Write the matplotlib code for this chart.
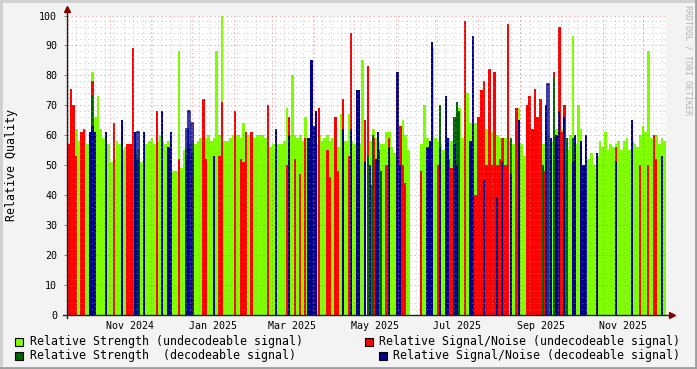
import numpy as np
import pandas as pd
import matplotlib
matplotlib.use("Agg")
import matplotlib.pyplot as plt
from matplotlib.ticker import MultipleLocator
from matplotlib.patches import Rectangle
from matplotlib.lines import Line2D

# =========================
# DATA (one value per 2-day step, starting 2024-09-30)
# =========================
START_DATE = "2024-09-30"
STEP_DAYS = 2
N_STEPS = 222

strength_undec = [
    57, 52, 60, 62, 58, 61, 62, 57, 58, 81,
    66, 73, 62, 59, 60, 57, 51, 52, 58, 57,
    55, 56, 50, 50, 53, 54, 55, 51, 53, 57,
    58, 59, 57, 58, 60, 58, 57, 58, 57, 48,
    48, 88, 49, 55, 56, 57, 58, 57, 58, 59,
    57, 59, 60, 58, 59, 88, 60, 100, 58, 58,
    59, 60, 60, 60, 59, 64, 60, 60, 60, 59,
    60, 60, 60, 59, 58, 56, 57, 60, 57, 57,
    58, 69, 60, 80, 60, 59, 60, 58, 66, 58,
    56, 54, 57, 60, 58, 59, 60, 58, 59, 60,
    56, 67, 58, 58, 67, 58, 57, 56, 57, 85,
    60, 62, 58, 62, 59, 58, 57, 57, 61, 61,
    56, 54, 70, 60, 65, 60, 55, np.nan, np.nan, np.nan,
    np.nan, 57, 70, 59, 58, 89, 59, 58, 57, 55,
    64, 59, 58, 57, 60, 69, 59, 60, 74, 64,
    64, 64, 62, 63, 61, 62, 69, 61, 62, 60,
    59, 57, 59, 58, 58, 57, 59, 69, 57, 53,
    57, 60, 62, 62, 62, 68, 57, 54, 60, 58,
    60, 62, 63, 62, 60, 55, 60, 93, 57, 70,
    62, 50, 52, 52, 54, 50, 53, 58, 56, 61,
    55, 57, 56, 57, 58, 55, 58, 59, 55, 58,
    57, 56, 60, 63, 61, 88, 59, 58, 60, 57,
    59, 58,
]

snr_undec_idx = [
    0, 1, 2, 3, 5, 6, 9, 10, 17, 22, 23, 24, 33, 41, 50, 51, 56, 57, 62, 64,
    65, 66, 68, 74, 77, 81, 82, 84, 86, 88, 93, 96, 97, 99, 100, 102, 104, 105, 107, 110,
    111, 112, 113, 114, 118, 119, 122, 123, 124, 125, 131, 137, 141, 142, 143, 145, 147, 151, 152, 153,
    154, 155, 156, 157, 158, 159, 160, 161, 162, 163, 166, 167, 170, 171, 172, 173, 174, 175, 176, 177,
    180, 182, 183, 184, 185, 188, 190, 203, 212, 215, 217, 218,
]
snr_undec = [
    57, 75.5, 70, 53, 61, 62, 78, 50, 64, 57, 57, 89, 68, 52, 72, 52, 53, 71, 68, 52,
    51, 61, 61, 70, 49, 50, 66, 52, 47, 59, 69, 55, 46, 66, 48, 72, 53, 94, 51, 65,
    83, 43.5, 59, 48, 50, 59, 57, 63, 50, 44, 48, 50, 52, 49, 61, 54, 98, 40, 66, 75,
    78, 50, 82, 50, 81, 50, 52, 59, 50, 97, 69, 65, 70, 73, 62, 75.5, 66, 72, 48, 65,
    81, 96, 61, 70, 59, 48, 58, 56, 50, 50, 60, 52,
]

strength_dec_idx = [9, 25, 26, 44, 45, 46, 89, 90, 111, 113, 115, 116, 122, 134, 135, 138,
                    143, 144, 145, 164, 176, 180, 185, 187]
strength_dec = [73, 52, 52, 53, 56, 54, 54, 54, 53, 60, 55, 48, 70, 48, 84, 70,
                66, 71, 68, 59, 50, 79, 59, 59]

snr_dec_idx = [
    8, 9, 10, 14, 20, 25, 28, 35, 37, 38, 54, 77, 82, 89, 90, 91, 92, 102, 105, 107,
    108, 110, 112, 114, 115, 119, 122, 123, 133, 134, 135, 138, 140, 141, 143, 144, 149, 150, 154, 159,
    161, 164, 167, 177, 179, 181, 182, 184, 187, 188, 190, 191, 192, 196, 203, 209, 220,
]
snr_dec = [
    61, 63, 61, 61, 65, 61, 61, 68, 56, 61, 53, 62, 60, 59, 85, 63, 68, 62, 62, 75,
    75, 51, 50, 52, 61, 56, 81, 50, 56, 58, 91, 56, 73, 59, 57, 50, 58, 93, 45, 39,
    51, 47, 65, 70, 59, 60, 68, 66, 51, 60, 58, 50, 60, 54, 51, 65, 53,
]
# decodeable S/N steps that only show as an outline
snr_dec_outline_idx = [26, 44, 45, 46, 178]
snr_dec_outline = [61, 62, 68, 64, 77]

label_dates = ["2024-11-16", "2025-01-16", "2025-03-16", "2025-05-16",
               "2025-07-16", "2025-09-16", "2025-11-16"]
label_texts = ["Nov 2024", "Jan 2025", "Mar 2025", "May 2025",
               "Jul 2025", "Sep 2025", "Nov 2025"]

legend_labels = [
    "Relative Strength (undecodeable signal)",
    "Relative Signal/Noise (undecodeable signal)",
    "Relative Strength  (decodeable signal)",
    "Relative Signal/Noise (decodeable signal)",
]

# =========================
# STYLE
# =========================
C_GREEN = "#80ff00"
C_RED = "#ff0000"
C_DKGREEN = "#006400"
C_NAVY = "#00008b"
C_BACK = "#f3f3f3"
C_ARROW = "#800000"
GRID_LS = (0, (1.4, 2.8))

W, H = 697, 369
plt.rcParams["font.family"] = ["DejaVu Sans Mono"]


def fx(x):
    return x / W


def fy(y):
    return 1 - y / H


def step_widths(idx):
    # isolated steps drawn thin, runs of steps drawn solid
    idx = list(idx)
    out = []
    for i, k in enumerate(idx):
        nxt = idx[i + 1] if i + 1 < len(idx) else None
        out.append(STEP_DAYS if nxt == k + 1 else 1.5)
    return out


dates = pd.date_range(START_DATE, periods=N_STEPS, freq=f"{STEP_DAYS}D")
t0 = dates[0]
t1 = dates[-1] + pd.Timedelta(days=STEP_DAYS)

fig = plt.figure(figsize=(W / 100, H / 100), dpi=100, facecolor=C_BACK)
ax = fig.add_axes([fx(67), fy(315), 599 / W, 299.5 / H])
ax.set_facecolor("white")

ax.bar(dates, strength_undec, width=STEP_DAYS, align="edge", color=C_GREEN,
       linewidth=0, antialiased=False, zorder=1)
thin_kw = dict(align="edge", linewidth=0, antialiased=False, zorder=1)
ax.bar(dates[snr_undec_idx], snr_undec, width=step_widths(snr_undec_idx), color=C_RED, **thin_kw)
ax.bar(dates[strength_dec_idx], strength_dec, width=step_widths(strength_dec_idx), color=C_DKGREEN, **thin_kw)
ax.bar(dates[snr_dec_idx], snr_dec, width=step_widths(snr_dec_idx), color=C_NAVY, **thin_kw)
ax.bar(dates[snr_dec_outline_idx], snr_dec_outline, width=1.5, align="edge",
       fill=False, edgecolor=C_NAVY, linewidth=1.1, zorder=1.5)

ax.set_xlim(t0, t1)
ax.set_ylim(0, 100)

# grid (drawn over the areas, faint)
ax.yaxis.set_major_locator(MultipleLocator(10))
ax.yaxis.set_minor_locator(MultipleLocator(2))
ax.grid(which="minor", axis="y", color="#a0a0a0", alpha=0.45, linewidth=0.7, linestyle=GRID_LS)
ax.grid(which="major", axis="y", color="#e04040", alpha=0.45, linewidth=0.7, linestyle=GRID_LS)
ax.set_axisbelow(False)

weeks = pd.date_range(t0, t1, freq="W-MON")
months = pd.date_range(t0, t1, freq="MS")
ax.vlines(weeks, 0, 100, colors="#a0a0a0", alpha=0.45, linewidth=0.7, linestyles=GRID_LS, zorder=2)
ax.vlines(months, 0, 100, colors="#e04040", alpha=0.45, linewidth=0.7, linestyles=GRID_LS, zorder=2.2)

ax.set_xticks(pd.to_datetime(label_dates), labels=label_texts)
ax.tick_params(axis="x", length=0, pad=4, labelsize=7.2)
ax.tick_params(axis="y", which="major", direction="out", length=2.5, width=0.7,
               color="#808080", pad=4.5, labelsize=7.2)
ax.tick_params(axis="y", which="minor", length=0)

for s in ax.spines.values():
    s.set_visible(False)

# axis lines with arrows
ax.plot([-0.006, 1.012], [0, 0], color="#202020", lw=1, transform=ax.transAxes, clip_on=False, zorder=3)
ax.plot([0, 0], [-0.01, 1.018], color="#202020", lw=1, transform=ax.transAxes, clip_on=False, zorder=3)
ax.plot([1.0095], [0], marker=">", ms=4.5, color=C_ARROW, transform=ax.transAxes, clip_on=False, zorder=4)
ax.plot([0], [1.022], marker="^", ms=4.5, color=C_ARROW, transform=ax.transAxes, clip_on=False, zorder=4)

# y label + watermark
fig.text(fx(12), fy(165), "Relative Quality", rotation=90, ha="center", va="center", fontsize=8.4)
fig.text(fx(688), fy(60), "RRDTOOL / TOBI OETIKER", rotation=270, ha="center", va="center",
         fontsize=6, color="#b4b4b4")

# legend (rrdtool style, second column right justified)
legend_colors = [C_GREEN, C_RED, C_DKGREEN, C_NAVY]
legend_pos = [(15, 341, "left"), (680, 341, "right"), (15, 355, "left"), (680, 355, "right")]
for (lx, ly, side), lab, col in zip(legend_pos, legend_labels, legend_colors):
    if side == "left":
        bx = lx
        fig.text(fx(bx + 15), fy(ly), lab, ha="left", va="center", fontsize=8.4)
    else:
        txt_w = len(lab) * 6.98
        bx = lx - txt_w - 15
        fig.text(fx(lx), fy(ly), lab, ha="right", va="center", fontsize=8.4)
    fig.add_artist(Rectangle((fx(bx), fy(ly + 4.5)), 8 / W, 8 / H, transform=fig.transFigure,
                             facecolor=col, edgecolor="black", linewidth=0.8))

# frame shading
fig.add_artist(Line2D([0, 1], [1 - 1 / H, 1 - 1 / H], color="#cfcfcf", lw=2, transform=fig.transFigure))
fig.add_artist(Line2D([1 / W, 1 / W], [0, 1], color="#cfcfcf", lw=2, transform=fig.transFigure))
fig.add_artist(Line2D([0, 1], [1 / H, 1 / H], color="#9e9e9e", lw=2, transform=fig.transFigure))
fig.add_artist(Line2D([1 - 1 / W, 1 - 1 / W], [0, 1], color="#9e9e9e", lw=2, transform=fig.transFigure))

fig.savefig("out.png", dpi=100, facecolor=fig.get_facecolor())
plt.close(fig)
